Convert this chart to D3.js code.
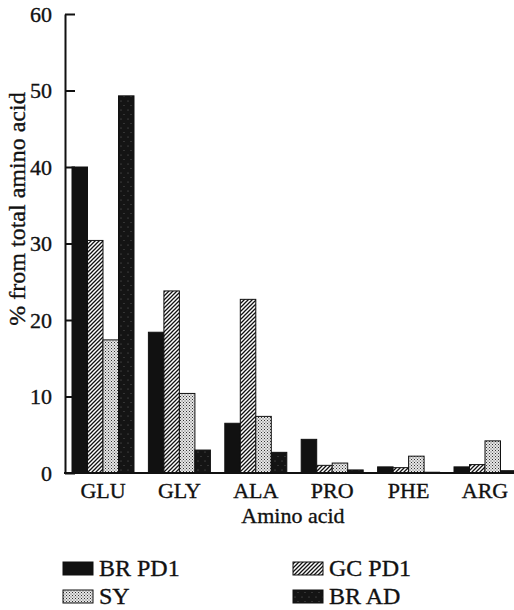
<!DOCTYPE html>
<html>
<head>
<meta charset="utf-8">
<script src="https://cdn.jsdelivr.net/npm/d3@7"></script>
<style>
  body { margin: 0; background: #fff; }
  svg { display: block; }
  text { font-family: "Liberation Serif", "DejaVu Serif", serif; fill: #111; stroke: #111; stroke-width: 0.35px; }
</style>
</head>
<body>
<div id="chart"></div>
<script>
// values (% from total amino acid)
const categories = ['GLU', 'GLY', 'ALA', 'PRO', 'PHE', 'ARG'];
const seriesNames = ['BR PD1', 'GC PD1', 'SY', 'BR AD'];
const brPd1 = [40.0, 18.4, 6.5, 4.4, 0.8, 0.8];
const gcPd1 = [30.4, 23.8, 22.7, 1.0, 0.7, 1.1];
const sy    = [17.4, 10.4, 7.4, 1.3, 2.2, 4.2];
const brAd  = [49.3, 3.0, 2.7, 0.4, 0.1, 0.3];
const yTicks = [0, 10, 20, 30, 40, 50, 60];

const seriesValues = [brPd1, gcPd1, sy, brAd];

const width = 514, height = 610;
const axisX = 65, baseY = 473, topY = 14;

const svg = d3.select('#chart').append('svg')
    .attr('width', width)
    .attr('height', height);

// fill patterns that mimic the printed shading
const defs = svg.append('defs');

const hatch = defs.append('pattern')
    .attr('id', 'hatch')
    .attr('patternUnits', 'userSpaceOnUse')
    .attr('width', 4).attr('height', 4);
hatch.append('rect').attr('width', 4).attr('height', 4).attr('fill', '#fff');
hatch.append('path')
    .attr('d', 'M-1,1 l2,-2 M0,4 l4,-4 M3,5 l2,-2')
    .attr('stroke', '#111').attr('stroke-width', 1.3);

const dots = defs.append('pattern')
    .attr('id', 'dots')
    .attr('patternUnits', 'userSpaceOnUse')
    .attr('width', 3).attr('height', 3);
dots.append('rect').attr('width', 3).attr('height', 3).attr('fill', '#e6e6e6');
dots.append('rect').attr('x', 0).attr('y', 0).attr('width', 1).attr('height', 1).attr('fill', '#333');
dots.append('rect').attr('x', 1.5).attr('y', 1.5).attr('width', 1).attr('height', 1).attr('fill', '#555');

const speck = defs.append('pattern')
    .attr('id', 'speck')
    .attr('patternUnits', 'userSpaceOnUse')
    .attr('width', 7).attr('height', 9);
speck.append('rect').attr('width', 7).attr('height', 9).attr('fill', '#141414');
speck.append('circle').attr('cx', 2).attr('cy', 2).attr('r', 0.5).attr('fill', '#777');
speck.append('circle').attr('cx', 5).attr('cy', 6.5).attr('r', 0.5).attr('fill', '#666');

const fills = ['#111', 'url(#hatch)', 'url(#dots)', 'url(#speck)'];

// scales
const x = d3.scaleBand()
    .domain(categories)
    .range([72, 516])
    .paddingInner(0.1885)
    .paddingOuter(0);

const xSub = d3.scaleBand()
    .domain(seriesNames)
    .range([0, x.bandwidth()]);

const y = d3.scaleLinear()
    .domain([0, 60])
    .range([baseY, topY]);

// bars
const rows = categories.flatMap((c, i) =>
  seriesNames.map((s, j) => ({cat: c, series: s, idx: j, value: seriesValues[j][i]})));

svg.append('g')
  .selectAll('rect')
  .data(rows)
  .join('rect')
    .attr('x', d => x(d.cat) + xSub(d.series))
    .attr('y', d => y(d.value))
    .attr('width', xSub.bandwidth())
    .attr('height', d => baseY - y(d.value))
    .attr('fill', d => fills[d.idx])
    .attr('stroke', '#111')
    .attr('stroke-width', 1);

// y axis, ticks point inward
const yAxis = svg.append('g')
    .attr('transform', `translate(${axisX},0)`)
    .call(d3.axisLeft(y).tickValues(yTicks).tickSizeInner(-10).tickSizeOuter(0).tickPadding(13));
yAxis.select('.domain').attr('stroke', '#111').attr('stroke-width', 2);
yAxis.selectAll('.tick line').attr('stroke', '#111').attr('stroke-width', 2);
yAxis.selectAll('.tick text')
    .attr('font-size', 22)
    .attr('font-family', '"Liberation Serif", serif')
    .attr('fill', '#111');

// x baseline
svg.append('line')
    .attr('x1', axisX - 1).attr('x2', width)
    .attr('y1', baseY).attr('y2', baseY)
    .attr('stroke', '#111').attr('stroke-width', 2);

const xAxis = svg.append('g')
    .attr('transform', `translate(0,${baseY})`)
    .call(d3.axisBottom(x).tickSize(0));
xAxis.select('.domain').remove();
xAxis.selectAll('.tick text')
    .attr('y', 25).attr('dy', 0)
    .attr('font-size', 22)
    .attr('font-family', '"Liberation Serif", serif')
    .attr('fill', '#111');

// axis titles
svg.append('text')
    .attr('x', 293).attr('y', 523)
    .attr('text-anchor', 'middle')
    .attr('font-size', 22)
    .text('Amino acid');

svg.append('text')
    .attr('transform', 'translate(25,209) rotate(-90)')
    .attr('text-anchor', 'middle')
    .attr('font-size', 24)
    .text('% from total amino acid');

// legend
const legendPos = [
  {sx: 63, ty: 576}, {sx: 293, ty: 576},
  {sx: 63, ty: 604}, {sx: 293, ty: 604}
];

const legend = svg.append('g')
  .selectAll('g')
  .data(seriesNames)
  .join('g')
    .attr('transform', (d, i) => `translate(${legendPos[i].sx},${legendPos[i].ty})`);

legend.append('rect')
    .attr('x', 0).attr('y', -14)
    .attr('width', 30).attr('height', 13)
    .attr('fill', (d, i) => fills[i])
    .attr('stroke', '#111').attr('stroke-width', 1);

legend.append('text')
    .attr('x', 36)
    .attr('font-size', 24)
    .text(d => d);
</script>
</body>
</html>
